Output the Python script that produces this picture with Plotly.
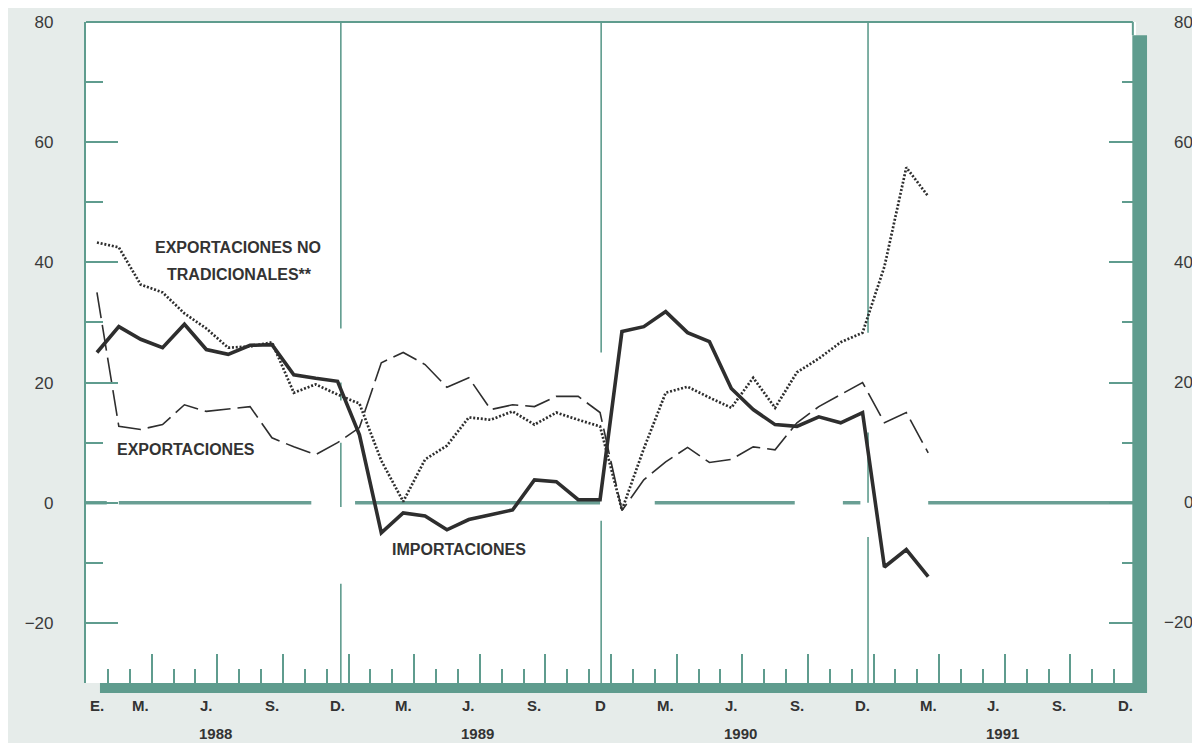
import plotly.graph_objects as go

# ---------------- data (month index 0 = Jan 1988) ----------------
meses = list(range(39))  # Jan 1988 .. Mar 1991

importaciones = [25, 29.3, 27.2, 25.8, 29.7, 25.5, 24.7, 26.2, 26.3, 21.3,
                 20.7, 20.2, 11.3, -5, -1.7, -2.2, -4.5, -2.8, -2, -1.2,
                 3.8, 3.5, 0.5, 0.5, 28.5, 29.3, 31.8, 28.3, 26.8, 19,
                 15.5, 13, 12.7, 14.3, 13.3, 15, -10.7, -7.8, -12.3]

exportaciones = [35, 12.7, 12.2, 13, 16.3, 15.2, 15.6, 16, 10.8, 9.3,
                 8, 10, 12.5, 23.3, 25, 23, 19.2, 20.8, 15.5, 16.3,
                 16, 17.7, 17.7, 15, -1.3, 3.8, 6.8, 9.2, 6.7, 7.2,
                 9.3, 8.8, 13.3, 16, 18, 20, 13.3, 15, 8.3]

no_tradicionales = [43.3, 42.5, 36.3, 35, 31.5, 29, 25.8, 26, 26.7, 18.3,
                    19.7, 18, 16.5, 7, 0.2, 7.2, 9.5, 14.2, 13.8, 15.2,
                    13, 15, 13.8, 12.7, -1.2, 9, 18.3, 19.3, 17.5, 15.8,
                    20.8, 15.8, 21.7, 24, 26.7, 28.3, 39.3, 55.8, 51]

y_ticks = [80, 60, 40, 20, 0, -20]
y_tick_text = ["80", "60", "40", "20", "0", "\u221220"]

mes_pos = [0, 2, 5, 8, 11, 14, 17, 20, 23, 26, 29, 32, 35, 38, 41, 44, 47]
mes_txt = ["E.", "M.", "J.", "S.", "D.", "M.", "J.", "S.", "D",
           "M.", "J.", "S.", "D.", "M.", "J.", "S.", "D."]
anios = ["1988", "1989", "1990", "1991"]

# ---------------- style ----------------
TEAL = "#5f9c8e"
TEAL_T = "#6a9f94"
INK = "#2e2e2e"
FONT = "Liberation Sans, Arial, sans-serif"

fig = go.Figure()

fig.add_trace(go.Scatter(x=meses, y=exportaciones, mode="lines",
                         line=dict(color=INK, width=1.6, dash="26px,7px"),
                         showlegend=False, hoverinfo="skip"))
fig.add_trace(go.Scatter(x=meses, y=no_tradicionales, mode="lines",
                         line=dict(color=INK, width=2.7, dash="2px,1.8px"),
                         showlegend=False, hoverinfo="skip"))
fig.add_trace(go.Scatter(x=meses, y=importaciones, mode="lines",
                         line=dict(color=INK, width=3.6),
                         showlegend=False, hoverinfo="skip"))
# dummy trace so the right axis is rendered
fig.add_trace(go.Scatter(x=[None], y=[None], yaxis="y2", showlegend=False,
                         hoverinfo="skip"))

shapes = []
# zero line (broken teal)
for a, b in [(-0.5, 0.45), (1.0, 9.8), (11.8, 23.0), (25.5, 31.9),
             (34.1, 34.9), (38.0, 47.5)]:
    shapes.append(dict(type="line", xref="x", yref="y", x0=a, x1=b, y0=0, y1=0,
                       line=dict(color=TEAL_T, width=3.5), layer="below"))
# year separators (broken, thin)
vgrid = {11.15: [(80, 29), (20, 17), (10, -0.7), (-13.5, -30)],
         23.05: [(80, 25), (-3, -30)],
         35.25: [(80, 28.3), (11.7, 0), (-5.7, -30)]}
for xv, segs in vgrid.items():
    for ya, yb in segs:
        shapes.append(dict(type="line", xref="x", yref="y", x0=xv, x1=xv,
                           y0=ya, y1=yb, line=dict(color=TEAL, width=1.6),
                           layer="below"))
# frame: thin top/left, thick "shadow" right/bottom
shapes += [
    dict(type="line", xref="paper", yref="paper", x0=0, x1=0.997, y0=1, y1=1,
         line=dict(color=TEAL, width=2.2)),
    dict(type="line", xref="paper", yref="paper", x0=0.997, x1=0.997, y0=1, y1=0.98,
         line=dict(color=TEAL, width=2)),
    dict(type="rect", xref="paper", yref="paper", x0=0.9965, x1=1.0105,
         y0=-0.0151, y1=0.980, fillcolor=TEAL, line=dict(width=0)),
    dict(type="rect", xref="paper", yref="paper", x0=0.0133, x1=1.0105,
         y0=-0.0151, y1=0.0, fillcolor=TEAL, line=dict(width=0)),
]

annotations = []
for p, t in zip(mes_pos, mes_txt):
    annotations.append(dict(x=p, xref="x", y=0, yref="paper", yshift=-22,
                            text=t, showarrow=False, yanchor="middle",
                            font=dict(family=FONT, size=15, color="#333333",
                                      weight="bold")))
for i, t in enumerate(anios):
    annotations.append(dict(x=5.4 + 12 * i, xref="x", y=0, yref="paper",
                            yshift=-50, text=t, showarrow=False,
                            yanchor="middle",
                            font=dict(family=FONT, size=15, color="#333333",
                                      weight="bold")))
for v, t in zip(y_ticks, y_tick_text):
    annotations.append(dict(x=1, xref="paper", xshift=59, xanchor="right",
                            y=v, yref="y", text=t, showarrow=False,
                            yanchor="middle",
                            font=dict(family=FONT, size=17, color="#3a3a3a")))

lab_font = dict(family=FONT, size=16, color="#333333", weight="bold")
annotations += [
    dict(x=6.45, y=42.5, xref="x", yref="y", text="EXPORTACIONES NO",
         showarrow=False, font=lab_font),
    dict(x=6.5, y=38.0, xref="x", yref="y", text="TRADICIONALES**",
         showarrow=False, font=lab_font),
    dict(x=4.07, y=8.8, xref="x", yref="y", text="EXPORTACIONES",
         showarrow=False, font=lab_font),
    dict(x=16.55, y=-7.8, xref="x", yref="y", text="IMPORTACIONES",
         showarrow=False, font=lab_font),
]

# page has an 8px body margin, so the figure is 8px smaller on each axis
fig.update_layout(
    width=1192, height=735,
    margin=dict(l=78, r=64, t=14, b=60, autoexpand=False),
    paper_bgcolor="#e6ecea",
    plot_bgcolor="#ffffff",
    shapes=shapes,
    annotations=annotations,
    xaxis=dict(range=[-0.5, 47.5], showgrid=False, zeroline=False,
               showline=False, showticklabels=False, automargin=False,
               tickmode="array", tickvals=[2.5 + 3 * k for k in range(16)],
               ticks="inside", ticklen=29, tickwidth=1.6, tickcolor=TEAL,
               minor=dict(tickmode="linear", tick0=0.5, dtick=1, ticks="inside",
                          ticklen=14, tickwidth=1.6, tickcolor=TEAL)),
    yaxis=dict(range=[-30, 80], showgrid=False, zeroline=False,
               showline=True, linecolor=TEAL, linewidth=2.2, automargin=False,
               tickmode="array", tickvals=y_ticks, ticktext=y_tick_text,
               ticks="inside", ticklen=32, tickwidth=1.5, tickcolor=TEAL,
               ticklabelstandoff=27,
               tickfont=dict(family=FONT, size=17, color="#3a3a3a"),
               minor=dict(tickmode="linear", tick0=0, dtick=10, ticks="inside",
                          ticklen=17, tickwidth=1.5, tickcolor=TEAL)),
    yaxis2=dict(range=[-30, 80], overlaying="y", side="right",
                showgrid=False, zeroline=False, showline=False,
                showticklabels=False, automargin=False,
                tickmode="array", tickvals=y_ticks,
                ticks="inside", ticklen=27, tickwidth=1.5, tickcolor=TEAL,
                minor=dict(tickmode="linear", tick0=0, dtick=10, ticks="inside",
                           ticklen=14, tickwidth=1.5, tickcolor=TEAL)),
)

fig.write_html("out.html")
